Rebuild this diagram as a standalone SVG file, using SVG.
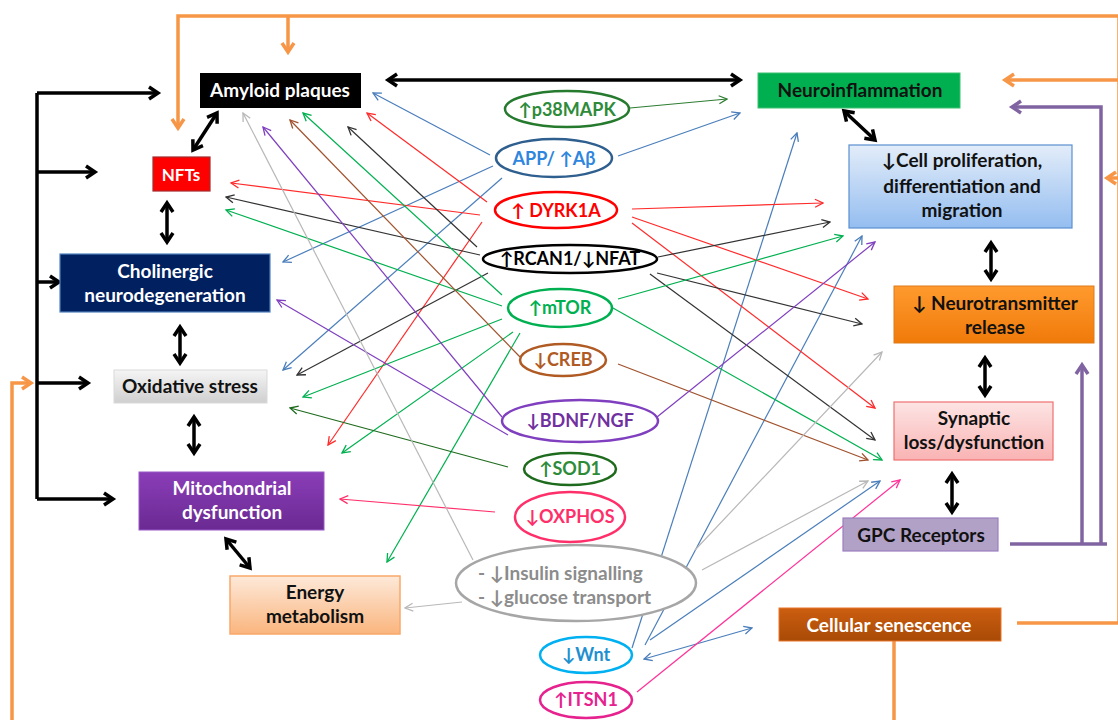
<svg xmlns="http://www.w3.org/2000/svg" width="1118" height="720" viewBox="0 0 1118 720">
<style>
text{font-family:Lato,"Liberation Sans","DejaVu Sans",sans-serif;font-weight:bold;text-anchor:middle}
.bt{font-size:19px;fill:#111}
.wt{font-size:19px;fill:#fff}
.et{font-size:18px}
.thick{fill:none;stroke:#000;stroke-width:3.5}
.or{fill:none;stroke:#F79646;stroke-width:3.5}
.pu{fill:none;stroke:#8064A2;stroke-width:3.5}
.th{fill:none;stroke-width:1.2}
.el{fill:#fff;stroke-width:2.5}
</style>
<defs>
<marker id="mk" markerUnits="userSpaceOnUse" markerWidth="16" markerHeight="16" viewBox="0 0 16 16" refX="12" refY="8" orient="auto-start-reverse"><path d="M3,2 L12,8 L3,14" fill="none" stroke="#000" stroke-width="3.5"/></marker>
<marker id="mo" markerUnits="userSpaceOnUse" markerWidth="16" markerHeight="16" viewBox="0 0 16 16" refX="12" refY="8" orient="auto-start-reverse"><path d="M3,2 L12,8 L3,14" fill="none" stroke="#F79646" stroke-width="3.5"/></marker>
<marker id="mp" markerUnits="userSpaceOnUse" markerWidth="16" markerHeight="16" viewBox="0 0 16 16" refX="12" refY="8" orient="auto-start-reverse"><path d="M3,2 L12,8 L3,14" fill="none" stroke="#8064A2" stroke-width="3.5"/></marker>
<marker id="a-blue" markerUnits="userSpaceOnUse" markerWidth="10" markerHeight="10" viewBox="0 0 10 10" refX="9" refY="5" orient="auto-start-reverse"><path d="M1,1 L9,5 L1,9" fill="none" stroke="#4A7EBB" stroke-width="1.3"/></marker>
<marker id="a-red" markerUnits="userSpaceOnUse" markerWidth="10" markerHeight="10" viewBox="0 0 10 10" refX="9" refY="5" orient="auto"><path d="M1,1 L9,5 L1,9" fill="none" stroke="#FF2A2A" stroke-width="1.3"/></marker>
<marker id="a-blk" markerUnits="userSpaceOnUse" markerWidth="10" markerHeight="10" viewBox="0 0 10 10" refX="9" refY="5" orient="auto"><path d="M1,1 L9,5 L1,9" fill="none" stroke="#333" stroke-width="1.3"/></marker>
<marker id="a-grn" markerUnits="userSpaceOnUse" markerWidth="10" markerHeight="10" viewBox="0 0 10 10" refX="9" refY="5" orient="auto"><path d="M1,1 L9,5 L1,9" fill="none" stroke="#00B050" stroke-width="1.3"/></marker>
<marker id="a-brn" markerUnits="userSpaceOnUse" markerWidth="10" markerHeight="10" viewBox="0 0 10 10" refX="9" refY="5" orient="auto"><path d="M1,1 L9,5 L1,9" fill="none" stroke="#A0522D" stroke-width="1.3"/></marker>
<marker id="a-pur" markerUnits="userSpaceOnUse" markerWidth="10" markerHeight="10" viewBox="0 0 10 10" refX="9" refY="5" orient="auto"><path d="M1,1 L9,5 L1,9" fill="none" stroke="#7F3FBF" stroke-width="1.3"/></marker>
<marker id="a-dg" markerUnits="userSpaceOnUse" markerWidth="10" markerHeight="10" viewBox="0 0 10 10" refX="9" refY="5" orient="auto"><path d="M1,1 L9,5 L1,9" fill="none" stroke="#1E6B1E" stroke-width="1.3"/></marker>
<marker id="a-gry" markerUnits="userSpaceOnUse" markerWidth="10" markerHeight="10" viewBox="0 0 10 10" refX="9" refY="5" orient="auto"><path d="M1,1 L9,5 L1,9" fill="none" stroke="#B8B8B8" stroke-width="1.3"/></marker>
<marker id="a-cr" markerUnits="userSpaceOnUse" markerWidth="10" markerHeight="10" viewBox="0 0 10 10" refX="9" refY="5" orient="auto"><path d="M1,1 L9,5 L1,9" fill="none" stroke="#FF2F6A" stroke-width="1.3"/></marker>
<marker id="a-pk" markerUnits="userSpaceOnUse" markerWidth="10" markerHeight="10" viewBox="0 0 10 10" refX="9" refY="5" orient="auto"><path d="M1,1 L9,5 L1,9" fill="none" stroke="#FF3399" stroke-width="1.3"/></marker>
<marker id="a-p38" markerUnits="userSpaceOnUse" markerWidth="10" markerHeight="10" viewBox="0 0 10 10" refX="9" refY="5" orient="auto"><path d="M1,1 L9,5 L1,9" fill="none" stroke="#2E7D32" stroke-width="1.3"/></marker>
<linearGradient id="gOx" x1="0" y1="0" x2="0" y2="1"><stop offset="0" stop-color="#F5F5F5"/><stop offset="1" stop-color="#CFCFCF"/></linearGradient>
<linearGradient id="gMi" x1="0" y1="0" x2="0" y2="1"><stop offset="0" stop-color="#8B3DB8"/><stop offset="1" stop-color="#6A2A92"/></linearGradient>
<linearGradient id="gEn" x1="0" y1="0" x2="0" y2="1"><stop offset="0" stop-color="#FDE9D9"/><stop offset="1" stop-color="#FAB57E"/></linearGradient>
<linearGradient id="gCe" x1="0" y1="0" x2="0" y2="1"><stop offset="0" stop-color="#E3EDF9"/><stop offset="1" stop-color="#94BDF0"/></linearGradient>
<linearGradient id="gNt" x1="0" y1="0" x2="0" y2="1"><stop offset="0" stop-color="#FF9A2E"/><stop offset="1" stop-color="#F07A0A"/></linearGradient>
<linearGradient id="gSy" x1="0" y1="0" x2="0" y2="1"><stop offset="0" stop-color="#FDE4E4"/><stop offset="1" stop-color="#F9B3B3"/></linearGradient>
<linearGradient id="gCs" x1="0" y1="0" x2="0" y2="1"><stop offset="0" stop-color="#CC5E10"/><stop offset="1" stop-color="#A84A06"/></linearGradient>
</defs>
<rect width="1118" height="720" fill="#fff"/>

<g id="connectors">
<!-- orange feedback -->
<path class="or" d="M1120,16 H178 V128" marker-end="url(#mo)"/>
<path class="or" d="M288,16 V52" marker-end="url(#mo)"/>
<path class="or" d="M1120,80 H1005" marker-end="url(#mo)"/>
<path class="or" d="M1120,178 H1107" marker-end="url(#mo)"/>
<path class="or" d="M1017,623 H1119 V16"/>
<path class="or" d="M894,641 V722"/>
<path class="or" d="M12,722 V383 H31" marker-end="url(#mo)"/>
<!-- purple GPC -->
<path class="pu" d="M1010,544 H1107"/>
<path class="pu" d="M1082,544 V365" marker-end="url(#mp)"/>
<path class="pu" d="M1101,544 V107 H1012" marker-end="url(#mp)"/>
<!-- black left bracket -->
<path class="thick" d="M37,93 V499"/>
<path class="thick" d="M37,93 H158" marker-end="url(#mk)"/>
<path class="thick" d="M37,172 H95" marker-end="url(#mk)"/>
<path class="thick" d="M37,282 H59" marker-end="url(#mk)"/>
<path class="thick" d="M37,383 H88" marker-end="url(#mk)"/>
<path class="thick" d="M37,499 H113" marker-end="url(#mk)"/>
<!-- black double arrows -->
<path class="thick" d="M388,80 H740" marker-start="url(#mk)" marker-end="url(#mk)"/>
<path class="thick" d="M193,150 L217,113" marker-start="url(#mk)" marker-end="url(#mk)"/>
<path class="thick" d="M167,203 V242" marker-start="url(#mk)" marker-end="url(#mk)"/>
<path class="thick" d="M180,327 V363" marker-start="url(#mk)" marker-end="url(#mk)"/>
<path class="thick" d="M194,417 V453" marker-start="url(#mk)" marker-end="url(#mk)"/>
<path class="thick" d="M226,539 L250,568" marker-start="url(#mk)" marker-end="url(#mk)"/>
<path class="thick" d="M844,111 L875,140" marker-start="url(#mk)" marker-end="url(#mk)"/>
<path class="thick" d="M991,243 V279" marker-start="url(#mk)" marker-end="url(#mk)"/>
<path class="thick" d="M985,358 V395" marker-start="url(#mk)" marker-end="url(#mk)"/>
<path class="thick" d="M952,474 V512" marker-start="url(#mk)" marker-end="url(#mk)"/>

<!-- thin: p38 -->
<path class="th" stroke="#2E7D32" d="M630,108 L727,99" marker-end="url(#a-p38)"/>
<!-- blue APP / Wnt -->
<g stroke="#4A7EBB">
<path class="th" d="M490,155 L373,93" marker-end="url(#a-blue)"/>
<path class="th" d="M618,156 L740,113" marker-end="url(#a-blue)"/>
<path class="th" d="M493,166 L283,262" marker-end="url(#a-blue)"/>
<path class="th" d="M502,178 L283,370" marker-end="url(#a-blue)"/>
<path class="th" d="M632,648 L797,133" marker-end="url(#a-blue)"/>
<path class="th" d="M645,645 L862,236" marker-end="url(#a-blue)"/>
<path class="th" d="M650,640 L880,481" marker-end="url(#a-blue)"/>
<path class="th" d="M644,659 L752,628" marker-start="url(#a-blue)" marker-end="url(#a-blue)"/>
</g>
<!-- red DYRK1A -->
<g stroke="#FF2A2A">
<path class="th" d="M487,202 L367,113" marker-end="url(#a-red)"/>
<path class="th" d="M480,215 L231,183" marker-end="url(#a-red)"/>
<path class="th" d="M482,222 L328,445" marker-end="url(#a-red)"/>
<path class="th" d="M632,209 L823,203" marker-end="url(#a-red)"/>
<path class="th" d="M632,217 L868,299" marker-end="url(#a-red)"/>
<path class="th" d="M632,223 L875,408" marker-end="url(#a-red)"/>
</g>
<!-- black RCAN1 -->
<g stroke="#333">
<path class="th" d="M477,247 L348,127" marker-end="url(#a-blk)"/>
<path class="th" d="M480,255 L226,197" marker-end="url(#a-blk)"/>
<path class="th" d="M488,273 L297,375" marker-end="url(#a-blk)"/>
<path class="th" d="M658,257 L830,222" marker-end="url(#a-blk)"/>
<path class="th" d="M657,273 L862,324" marker-end="url(#a-blk)"/>
<path class="th" d="M650,274 L875,440" marker-end="url(#a-blk)"/>
</g>
<!-- green mTOR -->
<g stroke="#00B050">
<path class="th" d="M502,295 L303,113" marker-end="url(#a-grn)"/>
<path class="th" d="M502,306 L226,210" marker-end="url(#a-grn)"/>
<path class="th" d="M502,319 L303,397" marker-end="url(#a-grn)"/>
<path class="th" d="M513,332 L342,453" marker-end="url(#a-grn)"/>
<path class="th" d="M520,333 L387,562" marker-end="url(#a-grn)"/>
<path class="th" d="M618,299 L843,236" marker-end="url(#a-grn)"/>
<path class="th" d="M613,308 L882,460" marker-end="url(#a-grn)"/>
</g>
<!-- brown CREB -->
<g stroke="#A0522D">
<path class="th" d="M520,357 L290,120" marker-end="url(#a-brn)"/>
<path class="th" d="M618,364 L868,460" marker-end="url(#a-brn)"/>
</g>
<!-- purple BDNF -->
<g stroke="#7F3FBF">
<path class="th" d="M502,417 L263,127" marker-end="url(#a-pur)"/>
<path class="th" d="M508,435 L277,300" marker-end="url(#a-pur)"/>
<path class="th" d="M657,417 L875,242" marker-end="url(#a-pur)"/>
</g>
<!-- SOD1 -->
<path class="th" stroke="#1E6B1E" d="M508,467 L290,408" marker-end="url(#a-dg)"/>
<!-- OXPHOS -->
<path class="th" stroke="#FF2F6A" d="M495,512 L340,499" marker-end="url(#a-cr)"/>
<!-- gray insulin -->
<g stroke="#B8B8B8">
<path class="th" d="M473,560 L243,113" marker-end="url(#a-gry)"/>
<path class="th" d="M462,602 L405,608" marker-end="url(#a-gry)"/>
<path class="th" d="M695,550 L882,352" marker-end="url(#a-gry)"/>
<path class="th" d="M702,570 L868,481" marker-end="url(#a-gry)"/>
</g>
<!-- ITSN1 -->
<path class="th" stroke="#FF3399" d="M637,692 L900,480" marker-end="url(#a-pk)"/>
</g>

<g id="amyloid"><rect x="200" y="73" width="161" height="35" fill="#000"/><text class="wt" x="280" y="97">Amyloid plaques</text></g>
<g id="nfts"><rect x="153" y="157" width="57" height="34" fill="#FF0000" stroke="#A52A2A" stroke-width="1.2"/><text class="wt" x="181" y="181" style="font-size:17px">NFTs</text></g>
<g id="cholinergic"><rect x="60" y="254" width="210" height="58" fill="#002060" stroke="#4F81BD" stroke-width="1.2"/><text class="wt" x="165" y="278">Cholinergic</text><text class="wt" x="165" y="302">neurodegeneration</text></g>
<g id="oxidative"><rect x="114" y="370" width="153" height="33" fill="url(#gOx)" stroke="#D9D9D9"/><text class="bt" x="190" y="393">Oxidative stress</text></g>
<g id="mito"><rect x="139" y="472" width="185" height="58" fill="url(#gMi)" stroke="#9A58C8"/><text class="wt" x="232" y="495">Mitochondrial</text><text class="wt" x="232" y="519">dysfunction</text></g>
<g id="energy"><rect x="230" y="576" width="170" height="58" fill="url(#gEn)" stroke="#F9A86A" stroke-width="1.5"/><text class="bt" x="315" y="599">Energy</text><text class="bt" x="315" y="623">metabolism</text></g>
<g id="neuroinflammation"><rect x="758" y="73" width="202" height="35" fill="#00B050" stroke="#3CC070"/><text class="bt" x="860" y="97">Neuroinflammation</text></g>
<g id="cellprolif"><rect x="849" y="145" width="223" height="83" fill="url(#gCe)" stroke="#5B8FD0" stroke-width="1.2"/><text class="bt" x="962" y="167">↓Cell proliferation,</text><text class="bt" x="962" y="193">differentiation and</text><text class="bt" x="962" y="217">migration</text></g>
<g id="neurotransmitter"><rect x="894" y="286" width="200" height="57" fill="url(#gNt)" stroke="#E07A1A"/><text class="bt" x="995" y="310">↓ Neurotransmitter</text><text class="bt" x="995" y="334">release</text></g>
<g id="synaptic"><rect x="894" y="402" width="159" height="58" fill="url(#gSy)" stroke="#F07070" stroke-width="1.2"/><text class="bt" x="974" y="425">Synaptic</text><text class="bt" x="974" y="449">loss/dysfunction</text></g>
<g id="gpc"><rect x="843" y="518" width="155" height="33" fill="#B2A1C7" stroke="#9B7FC0" stroke-width="1.2"/><text class="bt" x="921" y="542">GPC Receptors</text></g>
<g id="senescence"><rect x="779" y="608" width="222" height="33" fill="url(#gCs)" stroke="#E9762B"/><text class="wt" x="889" y="632">Cellular senescence</text></g>

<g id="p38mapk"><ellipse class="el" cx="567" cy="109" rx="62" ry="18" stroke="#267A2E"/><text class="et" x="567" y="116" fill="#2E8B3A">↑p38MAPK</text></g>
<g id="app"><ellipse class="el" cx="554" cy="158" rx="58" ry="19" stroke="#2F5F8F"/><text class="et" x="554" y="165" fill="#2E86DE">APP/ ↑Aβ</text></g>
<g id="dyrk1a"><ellipse class="el" cx="556" cy="210" rx="61" ry="18" stroke="#FF0000"/><text class="et" x="556" y="217" fill="#FF0000">↑ DYRK1A</text></g>
<g id="rcan1"><ellipse class="el" cx="570" cy="259" rx="87" ry="14" stroke="#000"/><text class="et" x="570" y="265" fill="#000">↑RCAN1/↓NFAT</text></g>
<g id="mtor"><ellipse class="el" cx="560" cy="308" rx="52" ry="19" stroke="#00B050"/><text class="et" x="560" y="314" fill="#00B050">↑mTOR</text></g>
<g id="creb"><ellipse class="el" cx="563" cy="360" rx="43" ry="16" stroke="#B05A24"/><text class="et" x="563" y="366" fill="#B05A24">↓CREB</text></g>
<g id="bdnf"><ellipse class="el" cx="580" cy="421" rx="78" ry="21" stroke="#7F3FBF"/><text class="et" x="580" y="427" fill="#7030A0">↓BDNF/NGF</text></g>
<g id="sod1"><ellipse class="el" cx="570" cy="469" rx="46" ry="16" stroke="#1E6B1E"/><text class="et" x="570" y="475" fill="#2E8B3A">↑SOD1</text></g>
<g id="oxphos"><ellipse class="el" cx="570" cy="517" rx="55" ry="25" stroke="#FF2F6A"/><text class="et" x="570" y="523" fill="#FF2F6A">↓OXPHOS</text></g>
<g id="insulin"><ellipse class="el" cx="576" cy="583" rx="120" ry="38" stroke="#A6A6A6" stroke-width="2"/><text x="478" y="580" fill="#8C8C8C" style="text-anchor:start;font-size:19px">- ↓Insulin signalling</text><text x="478" y="604" fill="#8C8C8C" style="text-anchor:start;font-size:19px">- ↓glucose transport</text></g>
<g id="wnt"><ellipse class="el" cx="586" cy="655" rx="46" ry="18" stroke="#00B0F0"/><text class="et" x="586" y="661" fill="#1E90D0">↓Wnt</text></g>
<g id="itsn1"><ellipse class="el" cx="586" cy="700" rx="46" ry="18" stroke="#E6228E"/><text class="et" x="586" y="706" fill="#E6228E">↑ITSN1</text></g>
</svg>
